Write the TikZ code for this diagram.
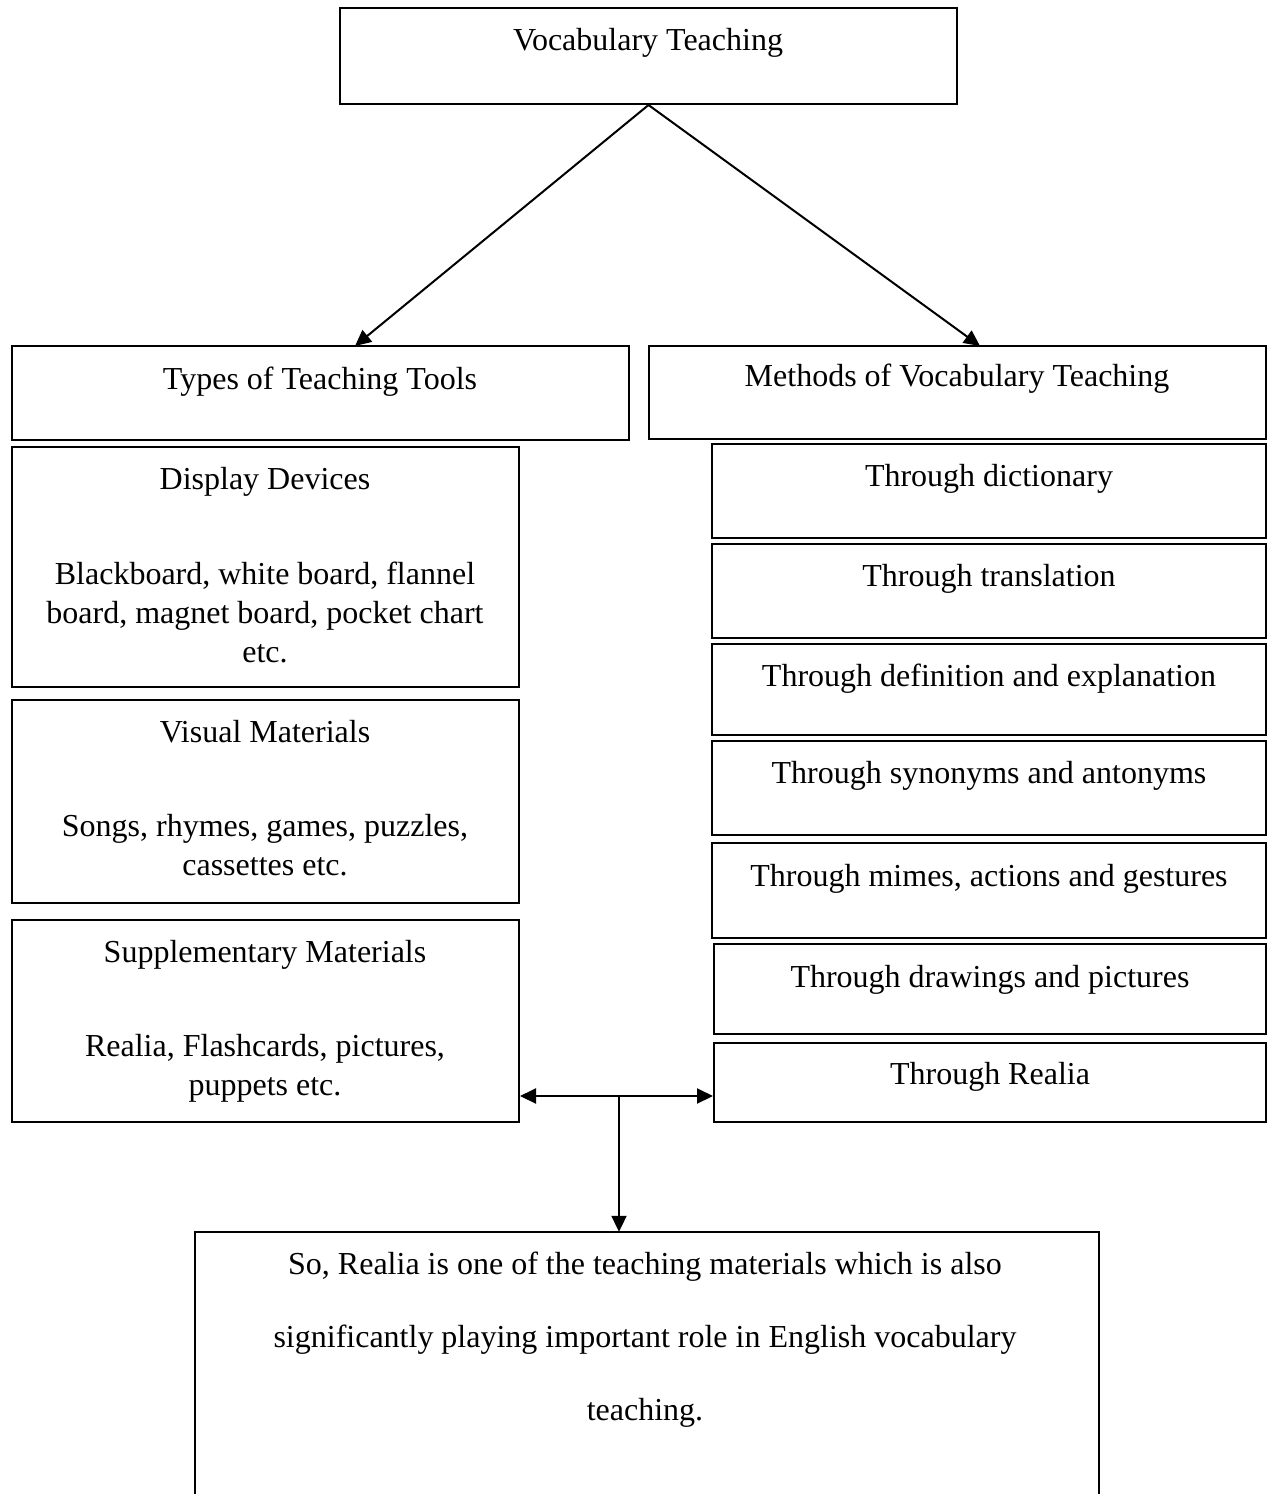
\documentclass[tikz,border=0pt]{standalone}
\usepackage{fontspec}
\setmainfont{Liberation Serif}
\usetikzlibrary{arrows.meta}

\begin{document}
\begin{tikzpicture}[x=1pt, y=-1pt]

\tikzstyle{box}=[draw, rectangle, line width=2pt, inner sep=0pt];
\tikzstyle{t}=[inner sep=0pt, font=\fontsize{32}{39}\selectfont, align=center];
\tikzstyle{e}=[line width=2pt, -{Triangle[length=16pt, width=15pt]}];
\useasboundingbox (0,0) rectangle (1272,1494);

\node[box, minimum width=617pt, minimum height=96pt] (vt) at (648.5, 56) {};
\node[t, anchor=base] (vt_t) at (648, 50) {Vocabulary Teaching};

\node[box, minimum width=617pt, minimum height=94pt] (tools) at (320.5, 393) {};
\node[t, anchor=base] (tools_t) at (320, 389) {Types of Teaching Tools};
\node[box, minimum width=617pt, minimum height=93pt] (methods) at (957.5, 392.5) {};
\node[t, anchor=base] (methods_t) at (957, 386) {Methods of Vocabulary Teaching};

% left column
\node[box, minimum width=507pt, minimum height=240pt] (dd) at (265.5, 567) {};
\node[t, anchor=base] (dd_t) at (265, 489) {Display Devices};
\node[t, anchor=north] (dd_b) at (265, 562) {Blackboard, white board, flannel\\board, magnet board, pocket chart\\etc.};

\node[box, minimum width=507pt, minimum height=203pt] (vm) at (265.5, 801.5) {};
\node[t, anchor=base] (vm_t) at (265, 742) {Visual Materials};
\node[t, anchor=north] (vm_b) at (265, 814) {Songs, rhymes, games, puzzles,\\cassettes etc.};

\node[box, minimum width=507pt, minimum height=202pt] (sm) at (265.5, 1021) {};
\node[t, anchor=base] (sm_t) at (265, 962) {Supplementary Materials};
\node[t, anchor=north] (sm_b) at (265, 1034) {Realia, Flashcards, pictures,\\puppets etc.};

% right column
\node[box, minimum width=554pt, minimum height=94pt] (r1) at (989, 491) {};
\node[t, anchor=base] (r1_t) at (989, 486) {Through dictionary};
\node[box, minimum width=554pt, minimum height=94pt] (r2) at (989, 591) {};
\node[t, anchor=base] (r2_t) at (989, 586) {Through translation};
\node[box, minimum width=554pt, minimum height=91pt] (r3) at (989, 689.5) {};
\node[t, anchor=base] (r3_t) at (989, 686) {Through definition and explanation};
\node[box, minimum width=554pt, minimum height=94pt] (r4) at (989, 788) {};
\node[t, anchor=base] (r4_t) at (989, 783) {Through synonyms and antonyms};
\node[box, minimum width=554pt, minimum height=95pt] (r5) at (989, 890.5) {};
\node[t, anchor=base] (r5_t) at (989, 886) {Through mimes, actions and gestures};
\node[box, minimum width=552pt, minimum height=90pt] (r6) at (990, 989) {};
\node[t, anchor=base] (r6_t) at (990, 987) {Through drawings and pictures};
\node[box, minimum width=552pt, minimum height=79pt] (r7) at (990, 1082.5) {};
\node[t, anchor=base] (r7_t) at (990, 1084) {Through Realia};

% conclusion, open at the bottom
\node[inner sep=0pt, minimum width=904pt, minimum height=270pt] (fin) at (647, 1367) {};
\draw[line width=2pt] (fin.south west) -- (fin.north west) -- (fin.north east) -- (fin.south east);
\node[t, anchor=north, font=\fontsize{32}{73}\selectfont] (fin_t) at (645, 1252) {So, Realia is one of the teaching materials which is also\\significantly playing important role in English vocabulary\\teaching.};

\coordinate (a1) at (355, 346);
\coordinate (a2) at (980, 346);
\coordinate (jn) at (619, 1096);

\draw[e] (vt.south) -- (a1);
\draw[e] (vt.south) -- (a2);
\draw[e, {Triangle[length=16pt, width=15pt]}-{Triangle[length=16pt, width=15pt]}] (sm.east |- jn) -- (r7.west |- jn);
\draw[e] (jn) -- (fin.north -| jn);
\end{tikzpicture}
\end{document}
